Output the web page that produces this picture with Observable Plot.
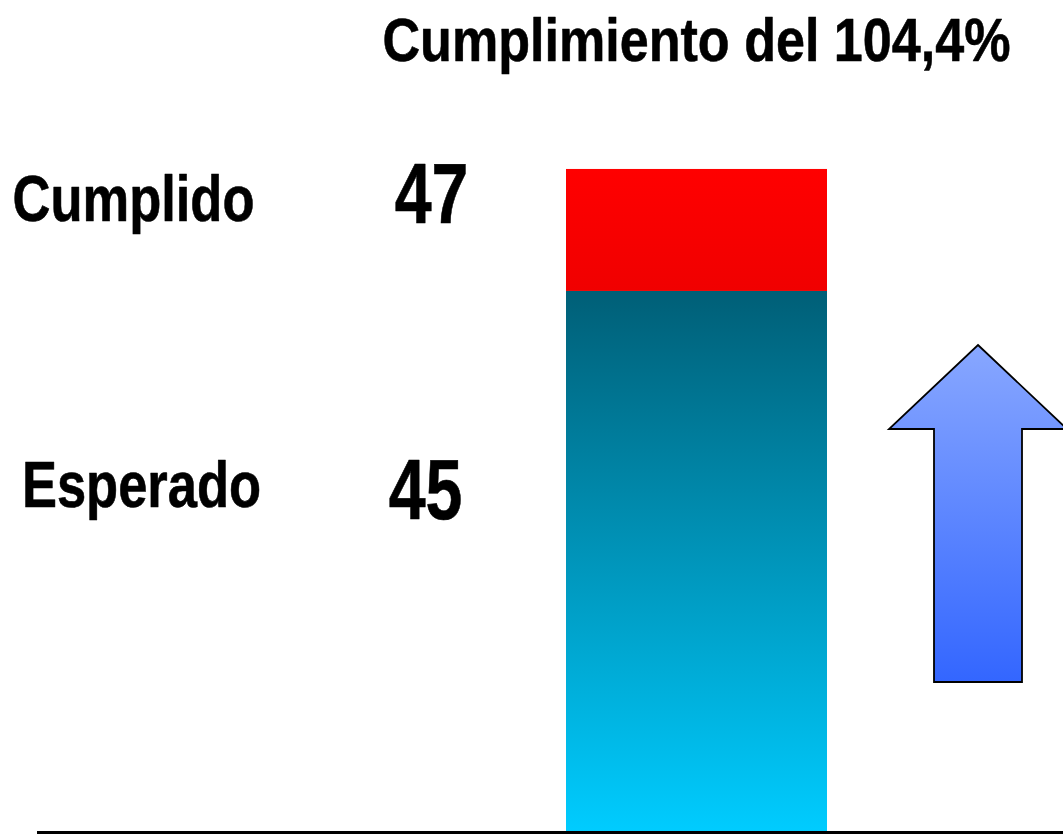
<!DOCTYPE html>
<html><head><meta charset="utf-8">
<script src="https://cdn.jsdelivr.net/npm/d3@7"></script>
<script src="https://cdn.jsdelivr.net/npm/@observablehq/plot@0.6"></script>
<style>
html,body{margin:0;padding:0;background:#fff;}
#chart svg text{font-family:"Liberation Sans",Arial,sans-serif;font-weight:bold;fill:#000;}
</style></head><body><div id="chart"></div>
<script>
// ---- data ----
const title = "Cumplimiento del 104,4%";
const categories = ["Cumplimiento"];
const series = ["Esperado", "Cumplido"];
const values = [45, 47];
const seriesColors = ["url(#gradTeal)", "url(#gradRed)"];

const yMin = 36.13, yMax = 49.77;

const bars = series.map((s, i) => ({
  cat: categories[0],
  serie: s,
  y1: i === 0 ? yMin : values[i - 1],
  y2: values[i]
}));
const labels = series.map((s, i) => ({serie: s, value: values[i]}));

function defs() {
  const d = d3.create("svg:defs");
  const g1 = d.append("linearGradient").attr("id", "gradTeal").attr("x1", 0).attr("y1", 0).attr("x2", 0).attr("y2", 1);
  g1.append("stop").attr("offset", "0%").attr("stop-color", "#005f77");
  g1.append("stop").attr("offset", "100%").attr("stop-color", "#00ccff");
  const g2 = d.append("linearGradient").attr("id", "gradRed").attr("x1", 0).attr("y1", 0).attr("x2", 0).attr("y2", 1);
  g2.append("stop").attr("offset", "0%").attr("stop-color", "#ff0000");
  g2.append("stop").attr("offset", "100%").attr("stop-color", "#f00000");
  const g3 = d.append("linearGradient").attr("id", "gradArrow").attr("x1", 0).attr("y1", 0).attr("x2", 0).attr("y2", 1);
  g3.append("stop").attr("offset", "0%").attr("stop-color", "#88a7ff");
  g3.append("stop").attr("offset", "100%").attr("stop-color", "#3366ff");
  return d.node();
}

function arrow(index, scales) {
  const x0 = scales.x(categories[0]) + scales.x.bandwidth();
  const cx = x0 + 151;
  const tip = 345, headBase = 429, bottom = 682;
  const headHalf = 89, shaftHalf = 44;
  const pts = [
    [cx, tip], [cx + headHalf, headBase], [cx + shaftHalf, headBase], [cx + shaftHalf, bottom],
    [cx - shaftHalf, bottom], [cx - shaftHalf, headBase], [cx - headHalf, headBase]
  ];
  return d3.create("svg:path")
    .attr("d", "M" + pts.join("L") + "Z")
    .attr("fill", "url(#gradArrow)")
    .attr("stroke", "#000")
    .attr("stroke-width", 1.8)
    .attr("stroke-linejoin", "miter")
    .node();
}

const font = "'Liberation Sans',Arial,sans-serif";
const common = {textAnchor: "middle", lineAnchor: "bottom", fontWeight: "bold", fill: "#000", stroke: "#000", strokeWidth: 0.6, frameAnchor: "top-left"};

const chart = Plot.plot({
  width: 1063,
  height: 835,
  marginTop: 0,
  marginBottom: 3,
  marginLeft: 0,
  marginRight: 0,
  style: {background: "#fff", fontFamily: font, overflow: "visible"},
  x: {type: "band", domain: categories, range: [566, 827], padding: 0, axis: null},
  y: {domain: [yMin, yMax], axis: null},
  color: {domain: series, range: seriesColors},
  marks: [
    defs,
    Plot.barY(bars, {x: "cat", y1: "y1", y2: "y2", fill: "serie"}),
    Plot.ruleY([yMin], {stroke: "#000", strokeWidth: 3, insetLeft: 37}),
    arrow,
    Plot.text([title], {...common, dx: 696, dy: 60, text: d => d, fontSize: 62}),
    Plot.text(labels.filter(d => d.serie === "Cumplido"), {...common, dx: 133, dy: 220, text: "serie", fontSize: 64}),
    Plot.text(labels.filter(d => d.serie === "Esperado"), {...common, dx: 141, dy: 506, text: "serie", fontSize: 64}),
    Plot.text(labels.filter(d => d.serie === "Cumplido"), {...common, dx: 431, dy: 222, text: d => String(d.value), fontSize: 86}),
    Plot.text(labels.filter(d => d.serie === "Esperado"), {...common, dx: 425, dy: 518, text: d => String(d.value), fontSize: 86})
  ]
});
document.getElementById("chart").appendChild(chart);
// condense glyphs horizontally (Arial Narrow look)
chart.querySelectorAll("text").forEach(t => {
  const fs = parseFloat(t.getAttribute("font-size") || getComputedStyle(t).fontSize);
  const k = fs > 80 ? 0.77 : (t.textContent.length > 15 ? 0.84 : 0.82);
  const w = t.getComputedTextLength();
  if (w > 0) {
    t.setAttribute("textLength", (w * k).toFixed(1));
    t.setAttribute("lengthAdjust", "spacingAndGlyphs");
  }
});
</script></body></html>
